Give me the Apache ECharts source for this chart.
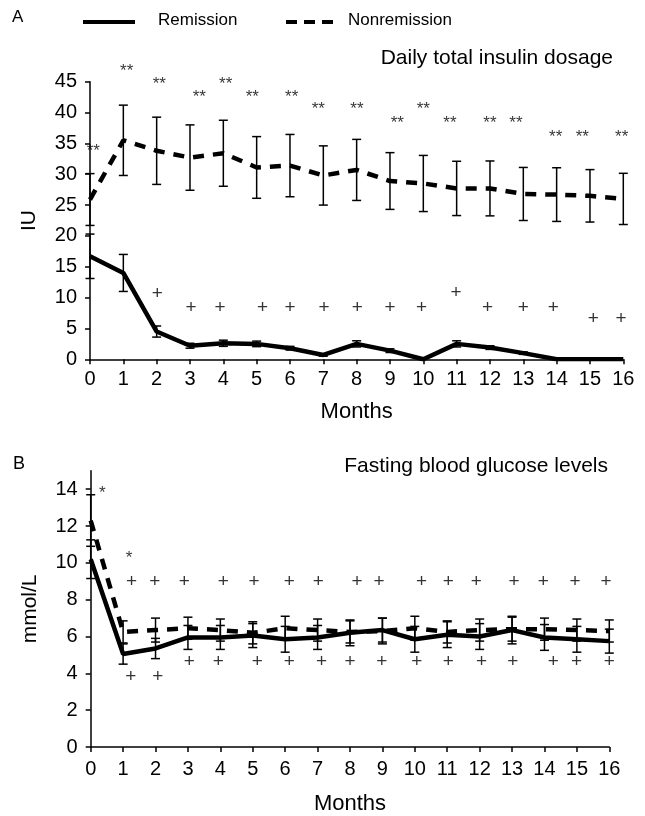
<!DOCTYPE html>
<html>
<head>
<meta charset="utf-8">
<script src="https://cdn.jsdelivr.net/npm/echarts@6/dist/echarts.min.js"></script>
<style>
  html, body { margin: 0; padding: 0; background: #fff; }
  #main { width: 645px; height: 816px; }
</style>
</head>
<body>
<div id="main"></div>
<script>
// months on the x axis
const months = [0, 1, 2, 3, 4, 5, 6, 7, 8, 9, 10, 11, 12, 13, 14, 15, 16];

// A: daily total insulin dosage (IU), mean and SD
const insulinRem = [16.7, 14.0, 4.5, 2.2, 2.6, 2.5, 1.8, 0.7, 2.5, 1.4, 0, 2.5, 1.9, 1.0, 0, 0, 0];
const insulinRemSd = [3.6, 3.0, 0.9, 0.4, 0.5, 0.45, 0.3, 0.2, 0.5, 0.3, 0, 0.5, 0.3, 0.2, 0, 0, 0];
const insulinNon = [25.9, 35.5, 33.8, 32.7, 33.4, 31.1, 31.4, 29.8, 30.7, 28.9, 28.5, 27.7, 27.7, 26.8, 26.7, 26.5, 26.0];
const insulinNonSd = [4.2, 5.7, 5.45, 5.3, 5.35, 5.0, 5.05, 4.8, 4.95, 4.6, 4.55, 4.4, 4.45, 4.3, 4.35, 4.25, 4.15];

// B: fasting blood glucose (mmol/L), mean and SD
const glucoseRem = [10.2, 5.05, 5.35, 5.95, 5.95, 6.05, 5.85, 5.95, 6.2, 6.35, 5.85, 6.1, 6.0, 6.35, 5.95, 5.85, 5.75];
const glucoseRemSd = [1.05, 0.55, 0.55, 0.65, 0.65, 0.65, 0.7, 0.65, 0.7, 0.65, 0.7, 0.7, 0.7, 0.75, 0.7, 0.7, 0.65];
const glucoseNon = [12.3, 6.25, 6.35, 6.45, 6.35, 6.2, 6.45, 6.35, 6.25, 6.3, 6.45, 6.25, 6.35, 6.4, 6.4, 6.35, 6.3];
const glucoseNonSd = [1.4, 0.6, 0.65, 0.6, 0.6, 0.6, 0.65, 0.6, 0.6, 0.7, 0.65, 0.6, 0.6, 0.65, 0.6, 0.6, 0.6];

// significance marks (position in data units)
const topStarX = [0.1, 1.1, 2.08, 3.28, 4.07, 4.87, 6.05, 6.85, 8.01, 9.22, 10.0, 10.8, 12.0, 12.78, 13.97, 14.77, 15.95];
const topStarY = [34.4, 47.4, 45.3, 43.1, 45.3, 43.1, 43.1, 41.1, 41.1, 38.9, 41.1, 38.9, 38.9, 38.9, 36.7, 36.7, 36.7];
const topPlusX = [2.02, 3.03, 3.9, 5.18, 6.0, 7.02, 8.02, 9.0, 9.95, 10.98, 11.93, 13.0, 13.9, 15.1, 15.93];
const topPlusY = [10.7, 8.4, 8.4, 8.4, 8.4, 8.4, 8.4, 8.4, 8.4, 10.8, 8.4, 8.4, 8.4, 6.5, 6.5];
const botStarX = [0.36, 1.18];
const botStarY = [14.0, 10.45];
const botPlusHiX = [1.26, 1.98, 2.89, 4.09, 5.04, 6.13, 7.02, 8.22, 8.9, 10.21, 11.03, 11.9, 13.06, 13.96, 14.94, 15.9];
const botPlusHiY = [8.95, 8.95, 8.95, 8.95, 8.95, 8.95, 8.95, 8.95, 8.95, 8.95, 8.95, 8.95, 8.95, 8.95, 8.95, 8.95];
const botPlusLoX = [1.24, 2.07, 3.04, 3.94, 5.14, 6.13, 7.12, 8.0, 8.98, 10.06, 11.03, 12.06, 13.02, 14.27, 14.99, 16.0];
const botPlusLoY = [3.84, 3.84, 4.63, 4.63, 4.63, 4.63, 4.63, 4.63, 4.63, 4.63, 4.63, 4.63, 4.63, 4.63, 4.63, 4.63];

const insulinTicks = [0, 5, 10, 15, 20, 25, 30, 35, 40, 45];
const glucoseTicks = [0, 2, 4, 6, 8, 10, 12, 14];

const FONT = '"Liberation Sans", Arial, Helvetica, sans-serif';

function pairs(xs, ys) {
  return xs.map((x, i) => [x, ys[i]]);
}
function triples(xs, ys, es) {
  return xs.map((x, i) => [x, ys[i], es[i]]);
}

function errorBars(xi, data) {
  return {
    type: 'custom',
    xAxisIndex: xi,
    yAxisIndex: xi,
    z: 2,
    silent: true,
    clip: false,
    data: data,
    encode: { x: 0, y: 1 },
    renderItem: function (params, api) {
      let x = api.value(0), m = api.value(1), e = api.value(2);
      if (!e) return null;
      let hi = api.coord([x, m + e]);
      let lo = api.coord([x, m - e]);
      let w = 4.5;
      let st = { stroke: '#000', lineWidth: 1.5 };
      return {
        type: 'group',
        children: [
          { type: 'line', shape: { x1: hi[0], y1: hi[1], x2: lo[0], y2: lo[1] }, style: st },
          { type: 'line', shape: { x1: hi[0] - w, y1: hi[1], x2: hi[0] + w, y2: hi[1] }, style: st },
          { type: 'line', shape: { x1: lo[0] - w, y1: lo[1], x2: lo[0] + w, y2: lo[1] }, style: st }
        ]
      };
    }
  };
}

function marks(xi, data, text, size, dy) {
  return {
    type: 'scatter',
    xAxisIndex: xi,
    yAxisIndex: xi,
    symbolSize: 0,
    clip: false,
    silent: true,
    z: 4,
    data: data,
    label: {
      show: true,
      position: 'inside',
      offset: [0, dy],
      formatter: text,
      color: '#000',
      fontFamily: FONT,
      fontSize: size
    }
  };
}

function meanLine(xi, ys, dashed) {
  return {
    type: 'line',
    xAxisIndex: xi,
    yAxisIndex: xi,
    z: 3,
    symbol: 'none',
    silent: true,
    data: pairs(months, ys),
    lineStyle: {
      color: '#000',
      width: 4.5,
      type: dashed ? [11, 9] : 'solid',
      cap: 'butt'
    }
  };
}

function xAxisFor(gi, margin, gap) {
  return {
    type: 'value',
    gridIndex: gi,
    min: 0,
    max: 16,
    interval: 1,
    name: 'Months',
    nameLocation: 'middle',
    nameGap: gap,
    nameTextStyle: { color: '#000', fontFamily: FONT, fontSize: 22 },
    axisLine: { lineStyle: { color: '#000', width: 1.5 } },
    axisTick: { length: 5, lineStyle: { color: '#000', width: 1.5 } },
    axisLabel: { margin: margin, color: '#000', fontFamily: FONT, fontSize: 20 },
    splitLine: { show: false }
  };
}

function yAxisFor(gi, name, max, interval, ticks, gap) {
  return {
    type: 'value',
    gridIndex: gi,
    min: 0,
    max: max,
    interval: interval,
    name: name,
    nameLocation: 'middle',
    nameGap: gap,
    nameTextStyle: { color: '#000', fontFamily: FONT, fontSize: 21 },
    axisLine: { show: true, lineStyle: { color: '#000', width: 1.5 } },
    axisTick: { show: true, length: 5, customValues: ticks, lineStyle: { color: '#000', width: 1.5 } },
    axisLabel: { margin: 13, customValues: ticks, color: '#000', fontFamily: FONT, fontSize: 20 },
    splitLine: { show: false }
  };
}

let chart = echarts.init(document.getElementById('main'), null, { renderer: 'canvas' });

let option = {
  backgroundColor: '#fff',
  animation: false,
  textStyle: { fontFamily: FONT },
  grid: [
    { left: 90, right: 21.7, top: 81.7, height: 277.6 },
    { left: 90.7, right: 35.7, top: 470.8, height: 277.5 }
  ],
  xAxis: [xAxisFor(0, 10, 42), xAxisFor(1, 12, 46)],
  yAxis: [
    yAxisFor(0, 'IU', 45, 5, insulinTicks, 50),
    yAxisFor(1, 'mmol/L', 15, 1, glucoseTicks, 50)
  ],
  graphic: [
    { type: 'text', left: 12, top: 9, style: { text: 'A', fontFamily: FONT, fontSize: 17, fill: '#000' } },
    { type: 'text', left: 13, top: 455, style: { text: 'B', fontFamily: FONT, fontSize: 18, fill: '#000' } },
    { type: 'line', shape: { x1: 83, y1: 22, x2: 135, y2: 22 }, style: { stroke: '#000', lineWidth: 4 } },
    { type: 'text', left: 158, top: 12, style: { text: 'Remission', fontFamily: FONT, fontSize: 17, fill: '#000' } },
    { type: 'line', shape: { x1: 286, y1: 22, x2: 334, y2: 22 }, style: { stroke: '#000', lineWidth: 4, lineDash: [11, 7] } },
    { type: 'text', left: 348, top: 12, style: { text: 'Nonremission', fontFamily: FONT, fontSize: 17, fill: '#000' } },
    { type: 'text', right: 32, top: 48, style: { text: 'Daily total insulin dosage', fontFamily: FONT, fontSize: 21, fill: '#000' } },
    { type: 'text', right: 37, top: 456, style: { text: 'Fasting blood glucose levels', fontFamily: FONT, fontSize: 21, fill: '#000' } }
  ],
  series: [
    errorBars(0, triples(months, insulinRem, insulinRemSd)),
    errorBars(0, triples(months, insulinNon, insulinNonSd)),
    meanLine(0, insulinRem, false),
    meanLine(0, insulinNon, true),
    marks(0, pairs(topStarX, topStarY), '**', 17, 4),
    marks(0, pairs(topPlusX, topPlusY), '+', 19, 0),

    errorBars(1, triples(months, glucoseRem, glucoseRemSd)),
    errorBars(1, triples(months, glucoseNon, glucoseNonSd)),
    meanLine(1, glucoseRem, false),
    meanLine(1, glucoseNon, true),
    marks(1, pairs(botStarX, botStarY), '*', 17, 4),
    marks(1, pairs(botPlusHiX, botPlusHiY), '+', 19, 0),
    marks(1, pairs(botPlusLoX, botPlusLoY), '+', 19, 0)
  ]
};

chart.setOption(option);
</script>
</body>
</html>
